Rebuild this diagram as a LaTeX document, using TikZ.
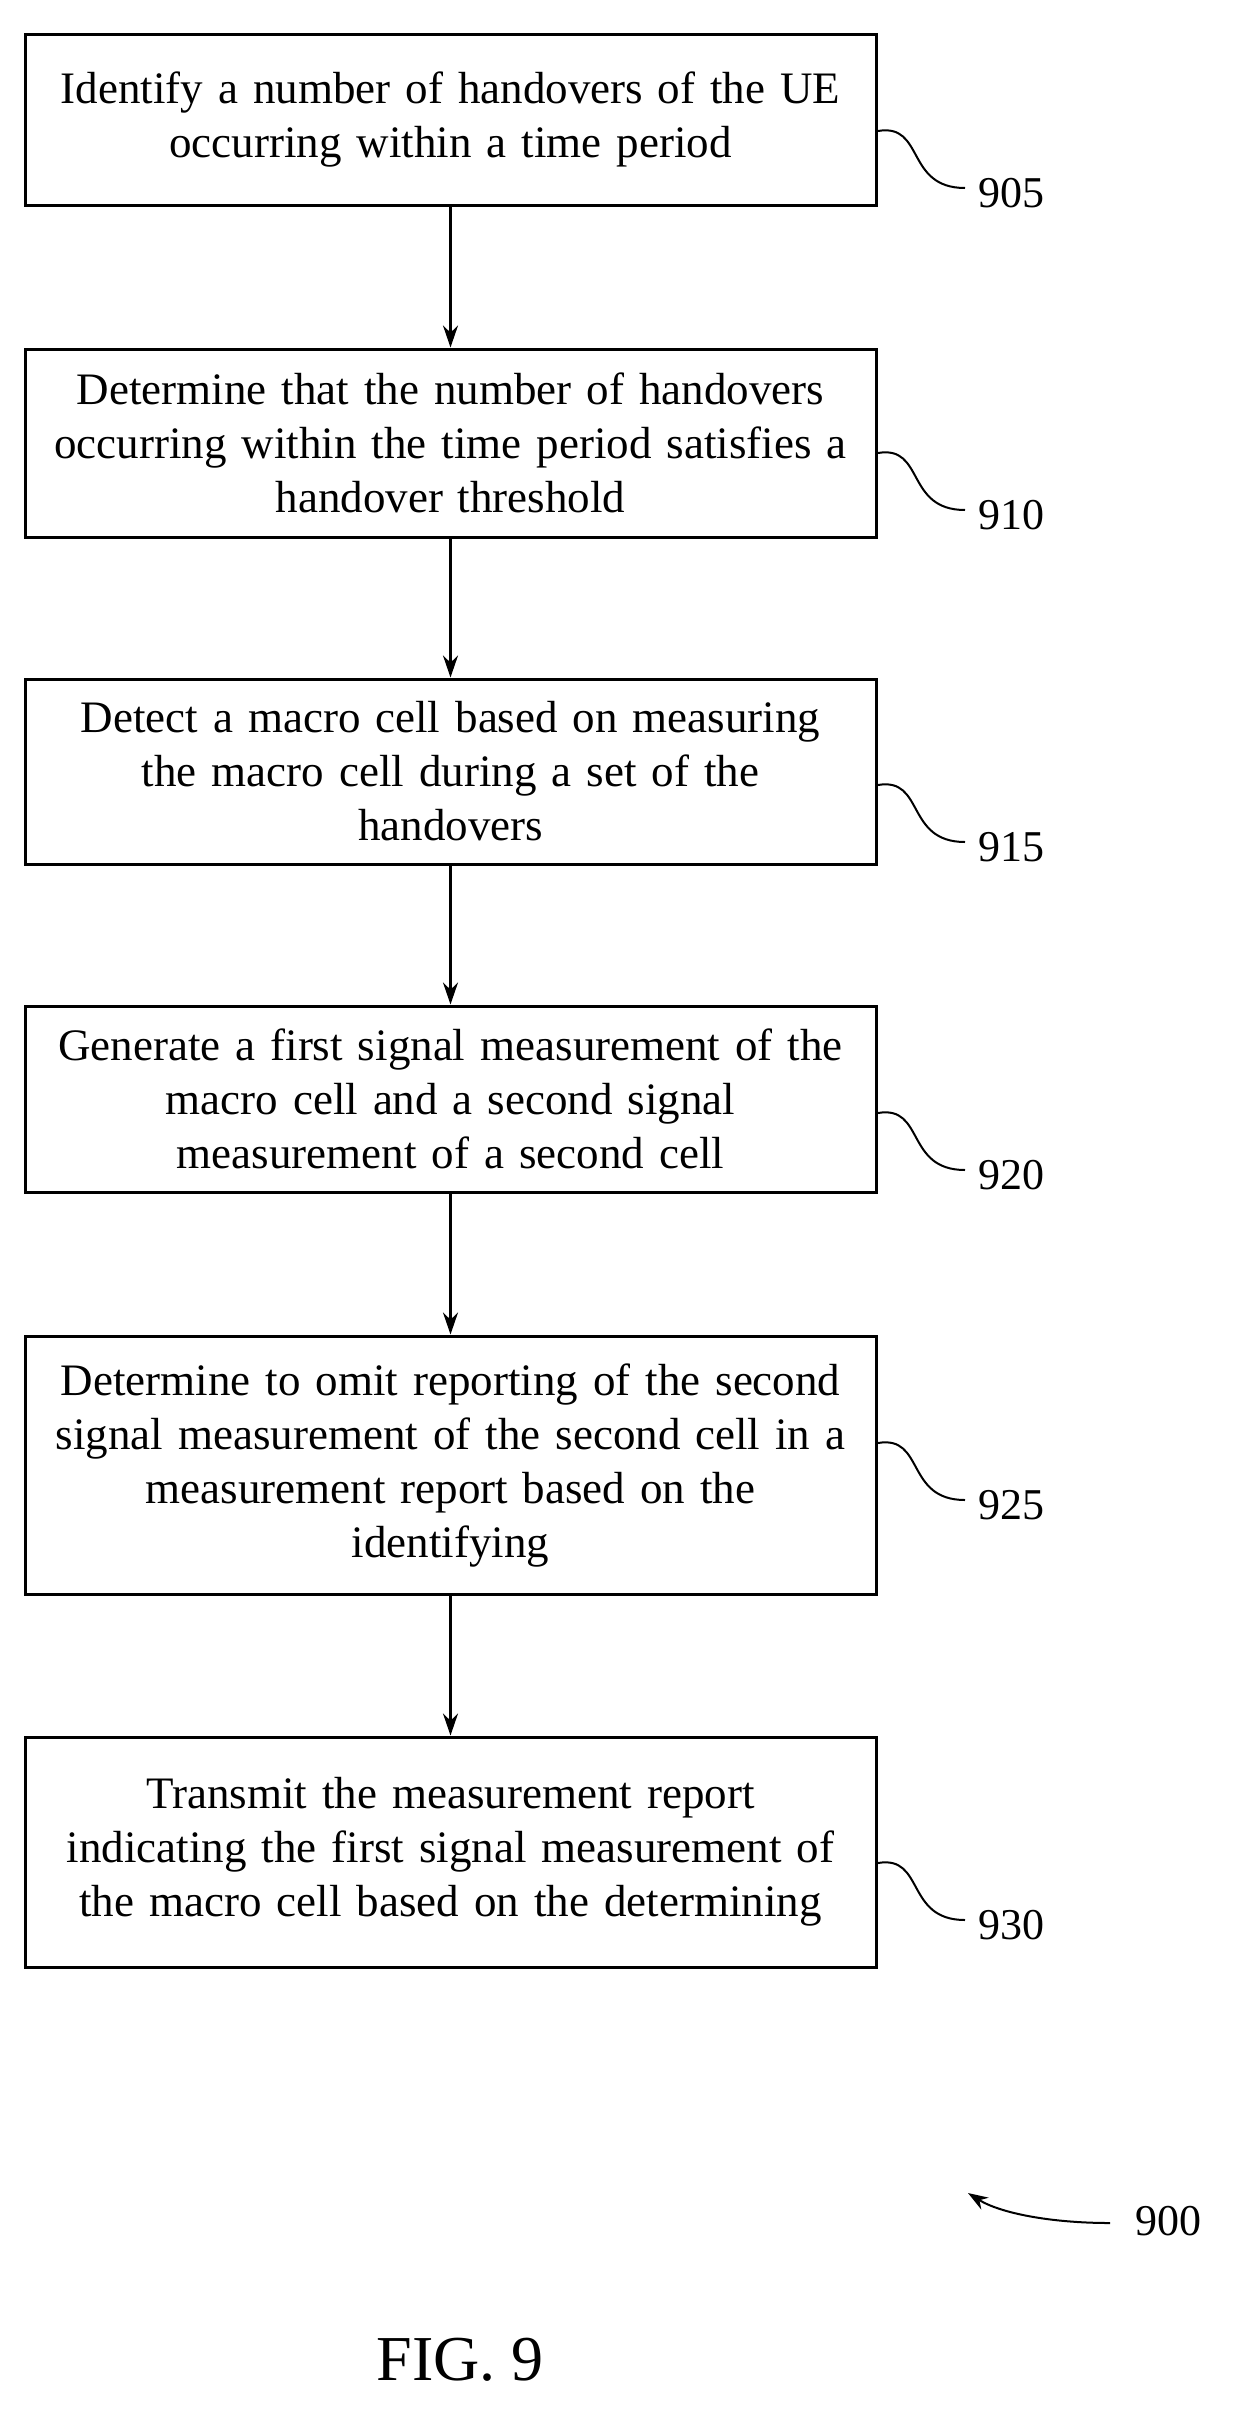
\documentclass[tikz,border=0pt]{standalone}
\usepackage{fontspec}
\setmainfont{Liberation Serif}
\usetikzlibrary{arrows.meta}
\begin{document}
\begin{tikzpicture}[x=1pt,y=-1pt,
 box/.style={draw,line width=3pt,minimum width=851pt,text width=840pt,align=center,font=\fontsize{45}{54}\selectfont,inner sep=0pt},
 lab/.style={font=\fontsize{44}{48}\selectfont,anchor=west},
 arr/.style={-{Stealth[length=22pt,width=15pt]},line width=2.4pt},
 sq/.style={line width=2pt}]
\useasboundingbox (0,0) rectangle (1234,2409);
\node[box,minimum height=171pt] (b1) at (450.5,119.5) {Identify a number of handovers of the UE\\occurring within a time period};
\node[box,minimum height=188pt] (b2) at (450.5,443) {Determine that the number of handovers\\occurring within the time period satisfies a\\handover threshold};
\node[box,minimum height=185pt] (b3) at (450.5,771.5) {Detect a macro cell based on measuring\\the macro cell during a set of the\\handovers};
\node[box,minimum height=186pt] (b4) at (450.5,1099) {Generate a first signal measurement of the\\macro cell and a second signal\\measurement of a second cell};
\node[box,minimum height=258pt] (b5) at (450.5,1465) {Determine to omit reporting of the second\\signal measurement of the second cell in a\\measurement report based on the\\identifying};
\node[box,minimum height=230pt] (b6) at (450.5,1852) {Transmit the measurement report\\indicating the first signal measurement of\\the macro cell based on the determining};
\foreach \a/\b in {b1/b2,b2/b3,b3/b4,b4/b5,b5/b6} \draw[arr] (\a.south) -- (\b.north);
\foreach \b/\n/\y in {b1/905/193,b2/910/515,b3/915/847,b4/920/1175,b5/925/1505,b6/930/1925}{
 \node[lab] (l\n) at (975,\y) {\n};
 \draw[sq] (878,\y-62) .. controls (925,\y-70) and (905,\y-5) .. (965,\y-5);
}
\node[lab] (l900) at (1132,2221) {900};
\coordinate (e900) at (968,2193);
\draw[line width=2pt,-{Stealth[length=20pt,width=14pt]}] (1110,2223) .. controls (1050,2223) and (1000,2213) .. (e900);
\node[font=\fontsize{64}{68}\selectfont] (fig) at (460,2360) {FIG. 9};
\end{tikzpicture}
\end{document}
